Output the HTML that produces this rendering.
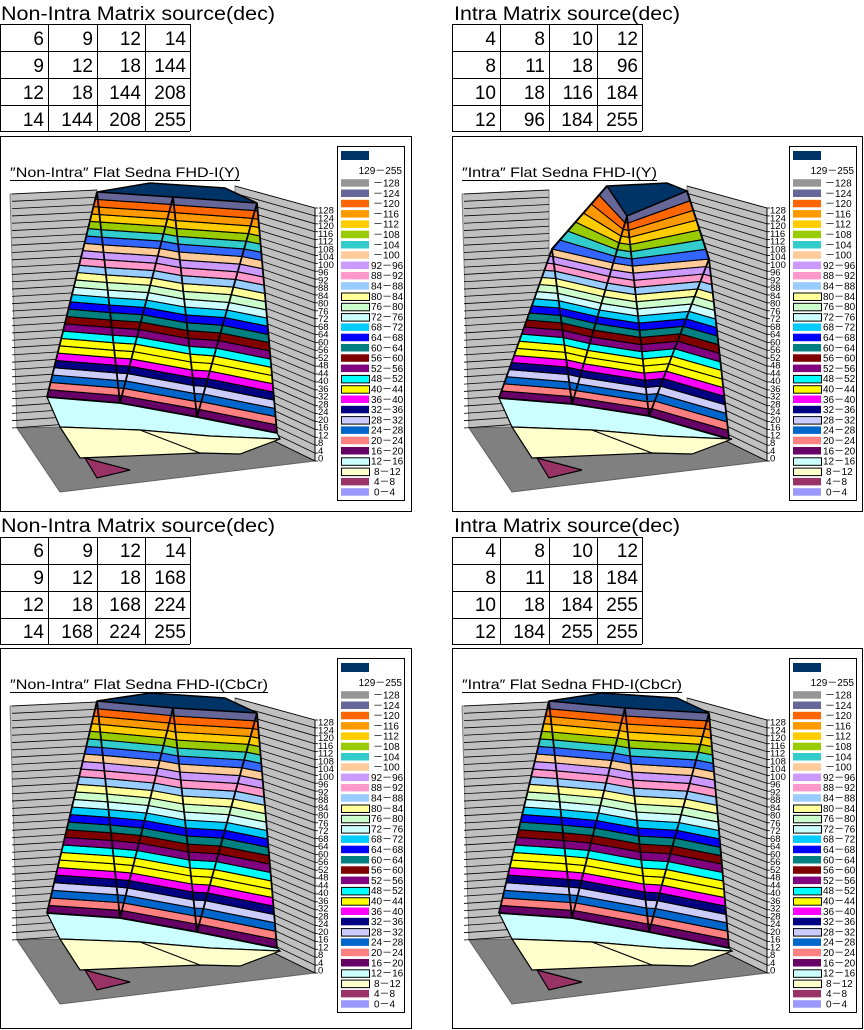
<!DOCTYPE html>
<html><head><meta charset="utf-8"><style>
html,body{margin:0;padding:0;background:#fff}
svg{display:block}
text{font-family:"Liberation Sans","Noto Sans CJK JP",sans-serif;fill:#000}
.tt{font-size:19px}
.num{font-size:19px;text-anchor:end}
.ct{font-size:14px}
.lg{font-size:10px}
.tk{font-size:9.5px}
</style></head><body>
<svg id="s" width="864" height="1030" xmlns="http://www.w3.org/2000/svg">
<g id="shapes"></g>

<text class="tt" x="1" y="20" textLength="274" lengthAdjust="spacingAndGlyphs">Non-Intra Matrix source(dec)</text>
<text class="tt" x="454" y="20" textLength="226" lengthAdjust="spacingAndGlyphs">Intra Matrix source(dec)</text>
<text class="tt" x="1" y="532" textLength="274" lengthAdjust="spacingAndGlyphs">Non-Intra Matrix source(dec)</text>
<text class="tt" x="454" y="532" textLength="226" lengthAdjust="spacingAndGlyphs">Intra Matrix source(dec)</text>

<g class="num">
<text class="num" x="44" y="45">6</text><text class="num" x="93" y="45">9</text><text class="num" x="141" y="45">12</text><text class="num" x="186" y="45">14</text>
<text class="num" x="44" y="72">9</text><text class="num" x="93" y="72">12</text><text class="num" x="141" y="72">18</text><text class="num" x="186" y="72">144</text>
<text class="num" x="44" y="99">12</text><text class="num" x="93" y="99">18</text><text class="num" x="141" y="99">144</text><text class="num" x="186" y="99">208</text>
<text class="num" x="44" y="126">14</text><text class="num" x="93" y="126">144</text><text class="num" x="141" y="126">208</text><text class="num" x="186" y="126">255</text>

<text class="num" x="496" y="45">4</text><text class="num" x="545" y="45">8</text><text class="num" x="593" y="45">10</text><text class="num" x="638" y="45">12</text>
<text class="num" x="496" y="72">8</text><text class="num" x="545" y="72">11</text><text class="num" x="593" y="72">18</text><text class="num" x="638" y="72">96</text>
<text class="num" x="496" y="99">10</text><text class="num" x="545" y="99">18</text><text class="num" x="593" y="99">116</text><text class="num" x="638" y="99">184</text>
<text class="num" x="496" y="126">12</text><text class="num" x="545" y="126">96</text><text class="num" x="593" y="126">184</text><text class="num" x="638" y="126">255</text>

<text class="num" x="44" y="557">6</text><text class="num" x="93" y="557">9</text><text class="num" x="141" y="557">12</text><text class="num" x="186" y="557">14</text>
<text class="num" x="44" y="584">9</text><text class="num" x="93" y="584">12</text><text class="num" x="141" y="584">18</text><text class="num" x="186" y="584">168</text>
<text class="num" x="44" y="611">12</text><text class="num" x="93" y="611">18</text><text class="num" x="141" y="611">168</text><text class="num" x="186" y="611">224</text>
<text class="num" x="44" y="638">14</text><text class="num" x="93" y="638">168</text><text class="num" x="141" y="638">224</text><text class="num" x="186" y="638">255</text>

<text class="num" x="496" y="557">4</text><text class="num" x="545" y="557">8</text><text class="num" x="593" y="557">10</text><text class="num" x="638" y="557">12</text>
<text class="num" x="496" y="584">8</text><text class="num" x="545" y="584">11</text><text class="num" x="593" y="584">18</text><text class="num" x="638" y="584">184</text>
<text class="num" x="496" y="611">10</text><text class="num" x="545" y="611">18</text><text class="num" x="593" y="611">184</text><text class="num" x="638" y="611">255</text>
<text class="num" x="496" y="638">12</text><text class="num" x="545" y="638">184</text><text class="num" x="593" y="638">255</text><text class="num" x="638" y="638">255</text>
</g>

<g transform="translate(0,136)">
<text class="ct" x="10" y="41" textLength="230" lengthAdjust="spacingAndGlyphs">″Non-Intra″ Flat Sedna FHD-I(Y)</text>
<text class="lg" x="402" y="38" text-anchor="end">129－255</text>
<text class="lg"><tspan x="373" y="50.5">－128</tspan><tspan x="373" y="60.8">－124</tspan><tspan x="373" y="71.1">－120</tspan><tspan x="373" y="81.4">－116</tspan><tspan x="373" y="91.7">－112</tspan><tspan x="373" y="102">－108</tspan><tspan x="373" y="112.3">－104</tspan><tspan x="373" y="122.6">－100</tspan><tspan x="371" y="132.9">92－96</tspan><tspan x="371" y="143.2">88－92</tspan><tspan x="371" y="153.5">84－88</tspan><tspan x="371" y="163.8">80－84</tspan><tspan x="371" y="174.1">76－80</tspan><tspan x="371" y="184.4">72－76</tspan><tspan x="371" y="194.7">68－72</tspan><tspan x="371" y="205">64－68</tspan><tspan x="371" y="215.3">60－64</tspan><tspan x="371" y="225.6">56－60</tspan><tspan x="371" y="235.9">52－56</tspan><tspan x="371" y="246.2">48－52</tspan><tspan x="371" y="256.5">40－44</tspan><tspan x="371" y="266.8">36－40</tspan><tspan x="371" y="277.1">32－36</tspan><tspan x="371" y="287.4">28－32</tspan><tspan x="371" y="297.7">24－28</tspan><tspan x="371" y="308">20－24</tspan><tspan x="371" y="318.3">16－20</tspan><tspan x="371" y="328.6">12－16</tspan><tspan x="374" y="338.9">8－12</tspan><tspan x="374" y="349.2">4－8</tspan><tspan x="374" y="359.5">0－4</tspan></text>
<text class="tk"><tspan x="318" y="325.5">0</tspan><tspan x="318" y="317.8">4</tspan><tspan x="318" y="310">8</tspan><tspan x="318" y="302.3">12</tspan><tspan x="318" y="294.5">16</tspan><tspan x="318" y="286.8">20</tspan><tspan x="318" y="279">24</tspan><tspan x="318" y="271.3">28</tspan><tspan x="318" y="263.5">32</tspan><tspan x="318" y="255.8">36</tspan><tspan x="318" y="248">40</tspan><tspan x="318" y="240.3">44</tspan><tspan x="318" y="232.5">48</tspan><tspan x="318" y="224.8">52</tspan><tspan x="318" y="217">56</tspan><tspan x="318" y="209.3">60</tspan><tspan x="318" y="201.5">64</tspan><tspan x="318" y="193.8">68</tspan><tspan x="318" y="186">72</tspan><tspan x="318" y="178.3">76</tspan><tspan x="318" y="170.5">80</tspan><tspan x="318" y="162.8">84</tspan><tspan x="318" y="155">88</tspan><tspan x="318" y="147.3">92</tspan><tspan x="318" y="139.5">96</tspan><tspan x="318" y="131.8">100</tspan><tspan x="318" y="124">104</tspan><tspan x="318" y="116.3">108</tspan><tspan x="318" y="108.5">112</tspan><tspan x="318" y="100.8">116</tspan><tspan x="318" y="93">120</tspan><tspan x="318" y="85.3">124</tspan><tspan x="318" y="77.5">128</tspan></text>
</g>

<g transform="translate(452,136)">
<text class="ct" x="10" y="41" textLength="195" lengthAdjust="spacingAndGlyphs">″Intra″ Flat Sedna FHD-I(Y)</text>
<text class="lg" x="402" y="38" text-anchor="end">129－255</text>
<text class="lg"><tspan x="373" y="50.5">－128</tspan><tspan x="373" y="60.8">－124</tspan><tspan x="373" y="71.1">－120</tspan><tspan x="373" y="81.4">－116</tspan><tspan x="373" y="91.7">－112</tspan><tspan x="373" y="102">－108</tspan><tspan x="373" y="112.3">－104</tspan><tspan x="373" y="122.6">－100</tspan><tspan x="371" y="132.9">92－96</tspan><tspan x="371" y="143.2">88－92</tspan><tspan x="371" y="153.5">84－88</tspan><tspan x="371" y="163.8">80－84</tspan><tspan x="371" y="174.1">76－80</tspan><tspan x="371" y="184.4">72－76</tspan><tspan x="371" y="194.7">68－72</tspan><tspan x="371" y="205">64－68</tspan><tspan x="371" y="215.3">60－64</tspan><tspan x="371" y="225.6">56－60</tspan><tspan x="371" y="235.9">52－56</tspan><tspan x="371" y="246.2">48－52</tspan><tspan x="371" y="256.5">40－44</tspan><tspan x="371" y="266.8">36－40</tspan><tspan x="371" y="277.1">32－36</tspan><tspan x="371" y="287.4">28－32</tspan><tspan x="371" y="297.7">24－28</tspan><tspan x="371" y="308">20－24</tspan><tspan x="371" y="318.3">16－20</tspan><tspan x="371" y="328.6">12－16</tspan><tspan x="374" y="338.9">8－12</tspan><tspan x="374" y="349.2">4－8</tspan><tspan x="374" y="359.5">0－4</tspan></text>
<text class="tk"><tspan x="318" y="325.5">0</tspan><tspan x="318" y="317.8">4</tspan><tspan x="318" y="310">8</tspan><tspan x="318" y="302.3">12</tspan><tspan x="318" y="294.5">16</tspan><tspan x="318" y="286.8">20</tspan><tspan x="318" y="279">24</tspan><tspan x="318" y="271.3">28</tspan><tspan x="318" y="263.5">32</tspan><tspan x="318" y="255.8">36</tspan><tspan x="318" y="248">40</tspan><tspan x="318" y="240.3">44</tspan><tspan x="318" y="232.5">48</tspan><tspan x="318" y="224.8">52</tspan><tspan x="318" y="217">56</tspan><tspan x="318" y="209.3">60</tspan><tspan x="318" y="201.5">64</tspan><tspan x="318" y="193.8">68</tspan><tspan x="318" y="186">72</tspan><tspan x="318" y="178.3">76</tspan><tspan x="318" y="170.5">80</tspan><tspan x="318" y="162.8">84</tspan><tspan x="318" y="155">88</tspan><tspan x="318" y="147.3">92</tspan><tspan x="318" y="139.5">96</tspan><tspan x="318" y="131.8">100</tspan><tspan x="318" y="124">104</tspan><tspan x="318" y="116.3">108</tspan><tspan x="318" y="108.5">112</tspan><tspan x="318" y="100.8">116</tspan><tspan x="318" y="93">120</tspan><tspan x="318" y="85.3">124</tspan><tspan x="318" y="77.5">128</tspan></text>
</g>

<g transform="translate(0,648)">
<text class="ct" x="10" y="41" textLength="258" lengthAdjust="spacingAndGlyphs">″Non-Intra″ Flat Sedna FHD-I(CbCr)</text>
<text class="lg" x="402" y="38" text-anchor="end">129－255</text>
<text class="lg"><tspan x="373" y="50.5">－128</tspan><tspan x="373" y="60.8">－124</tspan><tspan x="373" y="71.1">－120</tspan><tspan x="373" y="81.4">－116</tspan><tspan x="373" y="91.7">－112</tspan><tspan x="373" y="102">－108</tspan><tspan x="373" y="112.3">－104</tspan><tspan x="373" y="122.6">－100</tspan><tspan x="371" y="132.9">92－96</tspan><tspan x="371" y="143.2">88－92</tspan><tspan x="371" y="153.5">84－88</tspan><tspan x="371" y="163.8">80－84</tspan><tspan x="371" y="174.1">76－80</tspan><tspan x="371" y="184.4">72－76</tspan><tspan x="371" y="194.7">68－72</tspan><tspan x="371" y="205">64－68</tspan><tspan x="371" y="215.3">60－64</tspan><tspan x="371" y="225.6">56－60</tspan><tspan x="371" y="235.9">52－56</tspan><tspan x="371" y="246.2">48－52</tspan><tspan x="371" y="256.5">40－44</tspan><tspan x="371" y="266.8">36－40</tspan><tspan x="371" y="277.1">32－36</tspan><tspan x="371" y="287.4">28－32</tspan><tspan x="371" y="297.7">24－28</tspan><tspan x="371" y="308">20－24</tspan><tspan x="371" y="318.3">16－20</tspan><tspan x="371" y="328.6">12－16</tspan><tspan x="374" y="338.9">8－12</tspan><tspan x="374" y="349.2">4－8</tspan><tspan x="374" y="359.5">0－4</tspan></text>
<text class="tk"><tspan x="318" y="325.5">0</tspan><tspan x="318" y="317.8">4</tspan><tspan x="318" y="310">8</tspan><tspan x="318" y="302.3">12</tspan><tspan x="318" y="294.5">16</tspan><tspan x="318" y="286.8">20</tspan><tspan x="318" y="279">24</tspan><tspan x="318" y="271.3">28</tspan><tspan x="318" y="263.5">32</tspan><tspan x="318" y="255.8">36</tspan><tspan x="318" y="248">40</tspan><tspan x="318" y="240.3">44</tspan><tspan x="318" y="232.5">48</tspan><tspan x="318" y="224.8">52</tspan><tspan x="318" y="217">56</tspan><tspan x="318" y="209.3">60</tspan><tspan x="318" y="201.5">64</tspan><tspan x="318" y="193.8">68</tspan><tspan x="318" y="186">72</tspan><tspan x="318" y="178.3">76</tspan><tspan x="318" y="170.5">80</tspan><tspan x="318" y="162.8">84</tspan><tspan x="318" y="155">88</tspan><tspan x="318" y="147.3">92</tspan><tspan x="318" y="139.5">96</tspan><tspan x="318" y="131.8">100</tspan><tspan x="318" y="124">104</tspan><tspan x="318" y="116.3">108</tspan><tspan x="318" y="108.5">112</tspan><tspan x="318" y="100.8">116</tspan><tspan x="318" y="93">120</tspan><tspan x="318" y="85.3">124</tspan><tspan x="318" y="77.5">128</tspan></text>
</g>

<g transform="translate(452,648)">
<text class="ct" x="10" y="41" textLength="220" lengthAdjust="spacingAndGlyphs">″Intra″ Flat Sedna FHD-I(CbCr)</text>
<text class="lg" x="402" y="38" text-anchor="end">129－255</text>
<text class="lg"><tspan x="373" y="50.5">－128</tspan><tspan x="373" y="60.8">－124</tspan><tspan x="373" y="71.1">－120</tspan><tspan x="373" y="81.4">－116</tspan><tspan x="373" y="91.7">－112</tspan><tspan x="373" y="102">－108</tspan><tspan x="373" y="112.3">－104</tspan><tspan x="373" y="122.6">－100</tspan><tspan x="371" y="132.9">92－96</tspan><tspan x="371" y="143.2">88－92</tspan><tspan x="371" y="153.5">84－88</tspan><tspan x="371" y="163.8">80－84</tspan><tspan x="371" y="174.1">76－80</tspan><tspan x="371" y="184.4">72－76</tspan><tspan x="371" y="194.7">68－72</tspan><tspan x="371" y="205">64－68</tspan><tspan x="371" y="215.3">60－64</tspan><tspan x="371" y="225.6">56－60</tspan><tspan x="371" y="235.9">52－56</tspan><tspan x="371" y="246.2">48－52</tspan><tspan x="371" y="256.5">40－44</tspan><tspan x="371" y="266.8">36－40</tspan><tspan x="371" y="277.1">32－36</tspan><tspan x="371" y="287.4">28－32</tspan><tspan x="371" y="297.7">24－28</tspan><tspan x="371" y="308">20－24</tspan><tspan x="371" y="318.3">16－20</tspan><tspan x="371" y="328.6">12－16</tspan><tspan x="374" y="338.9">8－12</tspan><tspan x="374" y="349.2">4－8</tspan><tspan x="374" y="359.5">0－4</tspan></text>
<text class="tk"><tspan x="318" y="325.5">0</tspan><tspan x="318" y="317.8">4</tspan><tspan x="318" y="310">8</tspan><tspan x="318" y="302.3">12</tspan><tspan x="318" y="294.5">16</tspan><tspan x="318" y="286.8">20</tspan><tspan x="318" y="279">24</tspan><tspan x="318" y="271.3">28</tspan><tspan x="318" y="263.5">32</tspan><tspan x="318" y="255.8">36</tspan><tspan x="318" y="248">40</tspan><tspan x="318" y="240.3">44</tspan><tspan x="318" y="232.5">48</tspan><tspan x="318" y="224.8">52</tspan><tspan x="318" y="217">56</tspan><tspan x="318" y="209.3">60</tspan><tspan x="318" y="201.5">64</tspan><tspan x="318" y="193.8">68</tspan><tspan x="318" y="186">72</tspan><tspan x="318" y="178.3">76</tspan><tspan x="318" y="170.5">80</tspan><tspan x="318" y="162.8">84</tspan><tspan x="318" y="155">88</tspan><tspan x="318" y="147.3">92</tspan><tspan x="318" y="139.5">96</tspan><tspan x="318" y="131.8">100</tspan><tspan x="318" y="124">104</tspan><tspan x="318" y="116.3">108</tspan><tspan x="318" y="108.5">112</tspan><tspan x="318" y="100.8">116</tspan><tspan x="318" y="93">120</tspan><tspan x="318" y="85.3">124</tspan><tspan x="318" y="77.5">128</tspan></text>
</g>
</svg>
<script>
(function(){
var NS="http://www.w3.org/2000/svg";
var root=document.getElementById("shapes");
function el(tag,attrs,parent){var e=document.createElementNS(NS,tag);for(var k in attrs)e.setAttribute(k,attrs[k]);(parent||root).appendChild(e);return e;}
function pts(a){return a.map(function(p){return p[0].toFixed(1)+","+p[1].toFixed(1)}).join(" ");}
var col={16:"#660066",20:"#FF8080",24:"#0066CC",28:"#CCCCFF",32:"#000080",36:"#FF00FF",40:"#FFFF00",44:"#FFFF00",48:"#00FFFF",52:"#800080",56:"#800000",60:"#008080",64:"#0000FF",68:"#00CCFF",72:"#CCFFFF",76:"#CCFFCC",80:"#FFFF99",84:"#99CCFF",88:"#FF99CC",92:"#CC99FF",96:"#FFCC99",100:"#3366FF",104:"#33CCCC",108:"#99CC00",112:"#FFCC00",116:"#FF9900",120:"#FF6600",124:"#666699"};
var leg=["#969696","#666699","#FF6600","#FF9900","#FFCC00","#99CC00","#33CCCC","#FFCC99","#CC99FF","#FF99CC","#99CCFF","#FFFF99","#CCFFCC","#CCFFFF","#00CCFF","#0000FF","#008080","#800000","#800080","#00FFFF","#FFFF00","#FF00FF","#000080","#CCCCFF","#0066CC","#FF8080","#660066","#CCFFFF","#FFFFCC","#993366","#9999FF"];
var boxed={11:1,12:1,13:1,19:1,20:1,23:1,27:1,28:1};
function interp(r,v){for(var i=0;i<r.length-1;i++){var a=r[i],b=r[i+1];if(v<=b[0]){var t=(v-a[0])/(b[0]-a[0]);return [a[1]+(b[1]-a[1])*t,a[2]+(b[2]-a[2])*t];}}var l=r[r.length-1];return [l[1],l[2]];}
function chart(ox,oy,w,h,ridges,cap){
 var g=el("g",{transform:"translate("+ox+","+oy+")"});
 el("rect",{x:0.5,y:0.5,width:w-1,height:h-1,fill:"#fff",stroke:"#000","stroke-width":1},g);
 el("polygon",{points:"10,58 97,54 97,286 17,292",fill:"#C0C0C0",stroke:"#808080","stroke-width":1},g);
 el("polygon",{points:"235,50 315,72 315,325 235,286",fill:"#C0C0C0",stroke:"#808080","stroke-width":1},g);
 el("polygon",{points:"17,292 235,286 315,325 60,356",fill:"#808080",stroke:"#606060","stroke-width":1},g);
 for(var v=0;v<=128;v+=4){var t=v/128;
  var yl1=292-t*234,yl2=286-t*232;
  el("line",{x1:12,y1:yl1,x2:97,y2:yl2,stroke:"#000","stroke-width":0.8},g);
  var yr1=286-t*236,yr2=325-t*253;
  el("line",{x1:235,y1:yr1,x2:315,y2:yr2,stroke:"#000","stroke-width":0.8},g);
  el("line",{x1:315,y1:yr2,x2:318,y2:yr2,stroke:"#000","stroke-width":0.8},g);
 }
 el("line",{x1:315,y1:72,x2:315,y2:325,stroke:"#000","stroke-width":1},g);
 var b=ridges.map(function(r){return [r[0][1],r[0][2]];});
 el("polygon",{points:pts([b[0],b[1],b[3],b[5],[280,303],[210,300],[140,294],[60,291]]),fill:"#CCFFFF",stroke:"#000","stroke-width":1.2},g);
 el("polygon",{points:pts([[60,291],[140,294],[210,300],[280,303],[240,318],[200,317],[80,322]]),fill:"#FFFFCC",stroke:"#000","stroke-width":1.2},g);
 el("line",{x1:140,y1:294,x2:200,y2:317,stroke:"#000","stroke-width":1.2},g);
 el("polygon",{points:"85,322 130,334 97,342",fill:"#993366",stroke:"#000","stroke-width":1.2},g);
 for(var v=16;v<128;v+=4){
  var lo=ridges.map(function(r){return interp(r,v)}),hi=ridges.map(function(r){return interp(r,v+4)}).reverse();
  el("polygon",{points:pts(lo.concat(hi)),fill:col[v],stroke:"#000","stroke-width":1.1},g);
 }
 ridges.forEach(function(r){el("polyline",{points:pts(r.map(function(p){return [p[1],p[2]]})),fill:"none",stroke:"#000","stroke-width":1.8},g);});
 var bl=ridges.map(function(r){return interp(r,16)});
 el("polyline",{points:pts(bl),fill:"none",stroke:"#000","stroke-width":1.8},g);
 el("polygon",{points:pts(cap),fill:"#003366",stroke:"#000","stroke-width":1.5},g);
 el("rect",{x:337.5,y:10.5,width:67,height:354,fill:"#fff",stroke:"#000","stroke-width":1},g);
 el("rect",{x:341,y:15,width:28,height:9,fill:"#003366"},g);
 for(var i=0;i<leg.length;i++){var y=47+i*10.3-3.8;
  el("rect",{x:boxed[i]?341.5:341,y:boxed[i]?y+0.5:y,width:28,height:7.5,fill:leg[i],stroke:boxed[i]?"#000":"none","stroke-width":1},g);}
}
var R1=[[[16,47,261],[128,97,56]],[[16,120,267],[128,97,56]],[[16,120,267],[128,173,61]],[[16,197,281],[128,173,61]],[[16,197,281],[128,257,67]],[[16,277,297],[128,257,67]]];
var C1=[[97,56],[150,47],[225,52],[257,67],[173,61]];
var R2=[[[16,47,262],[100,100,113],[128,155,50]],[[16,120,268],[100,100,113],[128,155,50]],[[16,120,268],[128,175,80]],[[16,197,280],[128,175,80]],[[16,197,280],[100,257,123],[128,235,55]],[[16,277,303],[100,257,123],[128,235,55]]];
var C2=[[155,50],[215,47],[235,55],[175,80]];
var R3=[[[16,47,265],[128,97,53]],[[16,120,270],[128,97,53]],[[16,120,270],[128,173,60]],[[16,197,284],[128,173,60]],[[16,197,284],[128,257,65]],[[16,277,300],[128,257,65]]];
var C3=[[97,53],[150,45],[225,50],[257,65],[173,60]];
chart(0,136,412,376,R1,C1);
chart(452,136,411,376,R2,C2);
chart(0,648,412,381,R3,C3);
chart(452,648,411,381,R3,C3);
function tbl(x0,y0){var xs=[x0,x0+48,x0+97,x0+145,x0+190];var ys=[y0,y0+27,y0+54,y0+81,y0+107];
 ys.forEach(function(y){el("line",{x1:x0,y1:y+0.5,x2:x0+190,y2:y+0.5,stroke:"#000","stroke-width":1})});
 xs.forEach(function(x){el("line",{x1:x+0.5,y1:y0,x2:x+0.5,y2:y0+107,stroke:"#000","stroke-width":1})});}
tbl(0,24);tbl(452,24);tbl(0,537);tbl(452,537);
[[0,136,240],[452,136,205],[0,648,268],[452,648,230]].forEach(function(a){el("line",{x1:a[0]+10,y1:a[1]+44.5,x2:a[0]+a[2],y2:a[1]+44.5,stroke:"#000","stroke-width":1})});
})();
</script>
</body></html>
